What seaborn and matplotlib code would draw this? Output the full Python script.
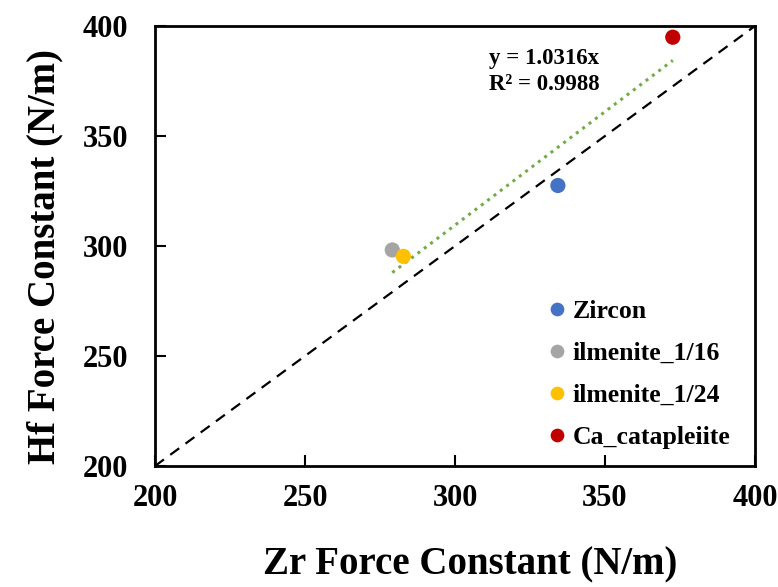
import matplotlib
matplotlib.use("Agg")
import matplotlib.pyplot as plt
import seaborn as sns
import pandas as pd
import numpy as np

minerals = ["Zircon", "ilmenite_1/16", "ilmenite_1/24", "Ca_catapleiite"]
zr_force = [334.3, 279.1, 282.8, 372.6]
hf_force = [327.5, 298.2, 295.3, 394.9]
colors = ["#4472C4", "#A5A5A5", "#FFC000", "#C00000"]
slope = 1.0316
r2 = 0.9988
ticks = [200, 250, 300, 350, 400]

sns.set_theme(style="white")
plt.rcParams["font.family"] = ["Liberation Serif", "DejaVu Serif"]
plt.rcParams["font.weight"] = "bold"
for k in ["text.color", "axes.labelcolor", "xtick.color", "ytick.color"]:
    plt.rcParams[k] = "black"

df = pd.DataFrame({"Zr": zr_force, "Hf": hf_force, "Mineral": minerals})

fig = plt.figure(figsize=(7.78, 5.87), dpi=100)
ax = fig.add_axes([155/778, 1-466/587, 600/778, 440/587])

# 1:1 reference line
ax.plot([200, 400], [200, 400], color="black", linestyle=(0, (5, 3.5)), linewidth=1.6, zorder=1)
# trendline through origin
xs = np.array([min(zr_force), max(zr_force)])
ax.plot(xs, slope * xs, color="#70AD47", linestyle=(0, (1, 1.6)), linewidth=2.2, zorder=1)

sns.scatterplot(data=df, x="Zr", y="Hf", hue="Mineral", palette=colors,
                hue_order=minerals, s=120, edgecolor="none", ax=ax, zorder=3)

ax.set_xlim(200, 400)
ax.set_ylim(200, 400)
ax.set_xticks(ticks)
ax.set_yticks(ticks)
ax.tick_params(axis="both", direction="in", length=8, width=1.5, labelsize=22,
               bottom=True, left=True, top=False, right=False)
ax.tick_params(axis="x", pad=13)
ax.tick_params(axis="y", pad=19)
for lab in ax.get_xticklabels() + ax.get_yticklabels():
    lab.set_fontweight("bold")
for sp in ax.spines.values():
    sp.set_color("black")
    sp.set_linewidth(2)

ax.set_xlabel("Zr Force Constant (N/m)", fontsize=28, fontweight="bold", labelpad=24)
ax.set_ylabel("Hf Force Constant (N/m)", fontsize=28, fontweight="bold", labelpad=14)
ax.xaxis.label.set_x(0.525)
ax.yaxis.label.set_y(0.475)

ax.text(0.557, 0.95, f"y = {slope:.4f}x\nR² = {r2:.4f}", transform=ax.transAxes,
        fontsize=16.5, fontweight="bold", ha="left", va="top", linespacing=1.3)

leg = ax.legend(loc="lower right", frameon=False, fontsize=18.5, title=None,
                handlelength=0.8, handletextpad=0.2, labelspacing=0.75,
                bbox_to_anchor=(0.997, -0.015), markerscale=0.9)
for t in leg.get_texts():
    t.set_fontweight("bold")

fig.savefig("out.png", dpi=100)
